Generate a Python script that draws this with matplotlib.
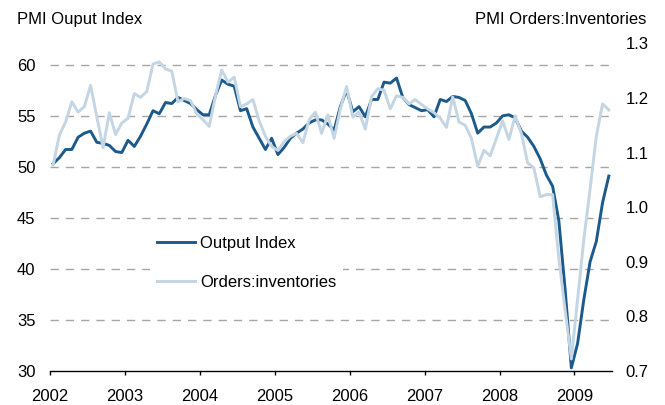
import matplotlib.pyplot as plt
import numpy as np

plt.rcParams['font.family'] = ['Liberation Sans', 'DejaVu Sans']

# monthly, Jan 2002 .. Jun 2009
start_year = 2002
output_index = [
    50.3, 50.9, 51.7, 51.7, 52.9, 53.3, 53.5, 52.4, 52.3, 52.1, 51.5, 51.4,
    52.6, 52.0, 53.0, 54.2, 55.5, 55.2, 56.3, 56.2, 56.8, 56.5, 56.2, 55.6,
    55.1, 55.1, 57.0, 58.5, 58.1, 57.9, 55.5, 55.7, 53.9, 52.8, 51.7, 52.8,
    51.2, 51.9, 52.8, 53.3, 53.7, 54.3, 54.6, 54.6, 54.2, 53.6, 55.9, 57.5,
    55.4, 55.9, 54.9, 56.6, 56.6, 58.3, 58.2, 58.7, 56.8, 56.1, 55.8, 55.5,
    55.6, 54.9, 56.6, 56.4, 56.9, 56.8, 56.5, 55.2, 53.3, 53.9, 53.9, 54.3,
    55.0, 55.1, 54.8, 53.5, 52.9, 52.0, 50.8, 49.2, 48.1, 44.7, 38.0, 30.3,
    32.7, 37.0, 40.7, 42.7, 46.5, 49.1,
]
orders_inventories = [
    1.077, 1.132, 1.156, 1.193, 1.174, 1.184, 1.223, 1.165, 1.109, 1.173, 1.133, 1.154,
    1.163, 1.208, 1.201, 1.212, 1.262, 1.266, 1.253, 1.249, 1.193, 1.199, 1.195, 1.171,
    1.160, 1.148, 1.204, 1.251, 1.229, 1.238, 1.184, 1.189, 1.197, 1.158, 1.130, 1.111,
    1.104, 1.120, 1.130, 1.135, 1.118, 1.160, 1.174, 1.135, 1.169, 1.126, 1.180, 1.221,
    1.165, 1.174, 1.143, 1.202, 1.217, 1.214, 1.180, 1.204, 1.201, 1.189, 1.197, 1.188,
    1.180, 1.173, 1.163, 1.146, 1.202, 1.156, 1.150, 1.126, 1.075, 1.104, 1.094, 1.126,
    1.158, 1.124, 1.167, 1.135, 1.081, 1.072, 1.019, 1.023, 1.023, 0.905, 0.812, 0.722,
    0.831, 0.941, 1.033, 1.130, 1.189, 1.178,
]
years = list(range(2002, 2010))
left_ticks = [30, 35, 40, 45, 50, 55, 60]
right_ticks = [0.7, 0.8, 0.9, 1.0, 1.1, 1.2, 1.3]

dark = '#1c5a8c'
light = '#c4d5e3'

# points sit in the middle of each month
x = start_year + (np.arange(len(output_index)) + 0.5) / 12

fig = plt.figure(figsize=(6.65, 4.05), dpi=100)
ax = fig.add_axes([0.0752, 0.084, 0.845, 0.809])
ax2 = ax.twinx()

l1, = ax.plot(x, output_index, color=dark, lw=2.1, label='Output Index', zorder=3)
l2, = ax2.plot(x, orders_inventories, color=light, lw=2.1, label='Orders:inventories', zorder=3)

ax.set_xlim(2002, 2009.5)
ax.set_ylim(30, 62.1)
ax2.set_ylim(0.7, 1.3)

ax.set_yticks(left_ticks)
ax.set_yticklabels([str(t) for t in left_ticks])
ax2.set_yticks(right_ticks)
ax2.set_yticklabels([f'{t:.1f}' for t in right_ticks])
ax.set_xticks(years)
ax.set_xticklabels([str(y) for y in years])

for t in left_ticks[1:]:
    ax.axhline(t, color='#a6a6a6', lw=1.0, dashes=(6, 5), zorder=1)

for a in (ax, ax2):
    for s in ('top', 'left', 'right', 'bottom'):
        a.spines[s].set_visible(False)
ax.spines['bottom'].set_visible(True)
ax.spines['bottom'].set_color('black')
ax.spines['bottom'].set_linewidth(1.0)

ax.tick_params(axis='y', length=0, pad=10.5, labelsize=12)
ax2.tick_params(axis='y', length=0, pad=10, labelsize=12)
ax.tick_params(axis='x', direction='out', length=3, width=1, pad=10, labelsize=12)

fig.text(0.025, 0.951, 'PMI Ouput Index', fontsize=12, va='center', ha='left')
fig.text(0.972, 0.951, 'PMI Orders:Inventories', fontsize=12, va='center', ha='right')

leg = ax2.legend(handles=[l1, l2], loc='center left', bbox_to_anchor=(0.178, 0.33),
                 borderaxespad=0, frameon=True, fontsize=12, handlelength=2.3,
                 handletextpad=0.3, labelspacing=1.4)
leg.get_frame().set_facecolor('white')
leg.get_frame().set_edgecolor('none')
leg.get_frame().set_alpha(1)

fig.savefig('out.png', dpi=100)
